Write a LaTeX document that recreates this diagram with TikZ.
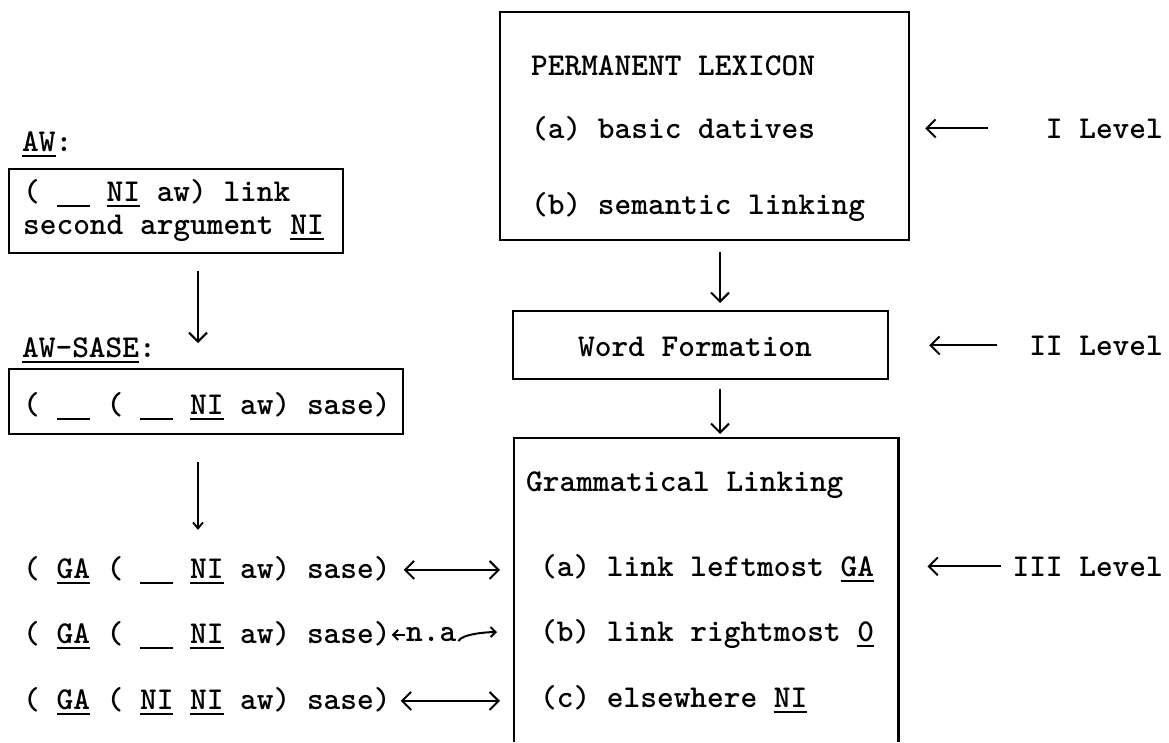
\documentclass[tikz,border=0pt]{standalone}
\usepackage{fontspec}
\usetikzlibrary{arrows.meta,calc}
\newcommand\uln[1]{\vtop{\hbox{#1}\kern3.5pt\hrule height 2pt}}
\newcommand\blnk{\uln{\phantom{NI}}}
\newcommand\twf{\ttfamily\bfseries\fontsize{31.8pt}{27pt}\selectfont}
\begin{document}
\begin{tikzpicture}[x=1pt,y=-1pt,
  txt/.style={anchor=base west, inner sep=0pt, font=\twf},
  txtr/.style={anchor=base east, inner sep=0pt, font=\twf},
  boxst/.style={draw, line width=2.2pt, inner sep=0pt, anchor=north west},
  arr/.style={line width=2pt, -{Straight Barb[length=9pt,width=18pt,line width=2pt]}},
  darr/.style={line width=2pt, {Straight Barb[length=9pt,width=18pt,line width=2pt]}-{Straight Barb[length=9pt,width=18pt,line width=2pt]}},
  smarr/.style={line width=2pt, -{Straight Barb[length=5pt,width=10pt,line width=2pt]}}
]
\useasboundingbox (0,0) rectangle (1169,742);

% right column boxes
\node[boxst, minimum width=409pt, minimum height=228pt] (lex) at (499,11) {};
\node[boxst, minimum width=375pt, minimum height=68pt] (wf) at (512,310) {};
\node[inner sep=0pt, minimum width=384pt, minimum height=304pt, anchor=north west] (gl) at (514,438) {};
\draw[line width=2.2pt] (gl.south west) -- (gl.north west) -- (gl.north east) -- (gl.south east);

% right column texts
\node[txt] (lex0) at (531,75) {PERMANENT LEXICON};
\node[txt] (lexa) at (531,138) {(a) basic datives};
\node[txt] (lexb) at (531,214) {(b) semantic linking};
\node[txt, anchor=base] (wft) at (695,356) {Word Formation};
\node[txt] (gl0) at (526,491) {Grammatical Linking};
\node[txt] (gla) at (540,576) {(a) link leftmost \uln{GA}};
\node[txt] (glb) at (540,641) {(b) link rightmost \uln{0}};
\node[txt] (glc) at (540,707) {(c) elsewhere \uln{NI}};

% levels
\node[txtr] (l1) at (1163,138) {I Level};
\node[txtr] (l2) at (1163,355) {II Level};
\node[txtr] (l3) at (1163,576) {III Level};
\draw[arr, shorten >=15pt] ([xshift=-58pt]l1.west) -- (lex.east |- l1.west);
\draw[arr, shorten >=40pt] ([xshift=-32pt]l2.west) -- (wf.east |- l2.west);
\draw[arr, shorten >=29pt] ([xshift=-11pt]l3.west) -- (gl.east |- l3.west);

% vertical arrows right
\coordinate (ax) at (720,0);
\draw[arr, shorten <=11pt, shorten >=7pt] (lex.south -| ax) -- (wf.north -| ax);
\draw[arr, shorten <=9pt, shorten >=4pt] (wf.south -| ax) -- (gl.north -| ax);

% left column
\node[boxst, minimum width=334pt, minimum height=84pt] (aw) at (8,168) {};
\node[boxst, minimum width=394pt, minimum height=65pt] (aws) at (8,368) {};
\node[txt] (awl) at (22,151) {\uln{AW}:};
\node[txt] (aw1) at (23,201) {( \blnk{} \uln{NI} aw) link};
\node[txt] (aw2) at (23,234) {second argument \uln{NI}};
\node[txt] (awsl) at (22,357) {\uln{AW-SASE}:};
\node[txt] (aws1) at (23,414) {( \blnk{} ( \blnk{} \uln{NI} aw) sase)};

\node[txt] (r1) at (23,578) {( \uln{GA} ( \blnk{} \uln{NI} aw) sase)};
\node[txt] (r2) at (23,643) {( \uln{GA} ( \blnk{} \uln{NI} aw) sase)};
\node[txt] (r3) at (23,709) {( \uln{GA} ( \uln{NI} \uln{NI} aw) sase)};

\coordinate (bx) at (198,0);
\draw[arr, shorten <=17pt, shorten >=25pt] (aw.south -| bx) -- (aws.north -| bx);
\draw[line width=2pt, -{Straight Barb[length=6pt,width=10pt,line width=1.8pt]}, shorten <=27pt, shorten >=26pt] (aws.south -| bx) -- (r1.north -| bx);

% row arrows
\draw[darr, shorten >=14pt] ([xshift=13pt]r1.east) -- (gl.west |- r1.east);
\draw[darr, shorten >=14pt] ([xshift=10pt]r3.east) -- (gl.west |- r3.east);
\draw[smarr] ([xshift=14pt]r2.east) -- ([xshift=1pt]r2.east);
\node[txt] (na) at (406,641) {n.a};
\coordinate (nae) at ($(gl.west |- na.east)+(-17,-2)$);
\draw[smarr] ([xshift=2pt,yshift=-7pt]na.east) .. controls +(3,-7) and +(-10,0) .. (nae);
\end{tikzpicture}
\end{document}
